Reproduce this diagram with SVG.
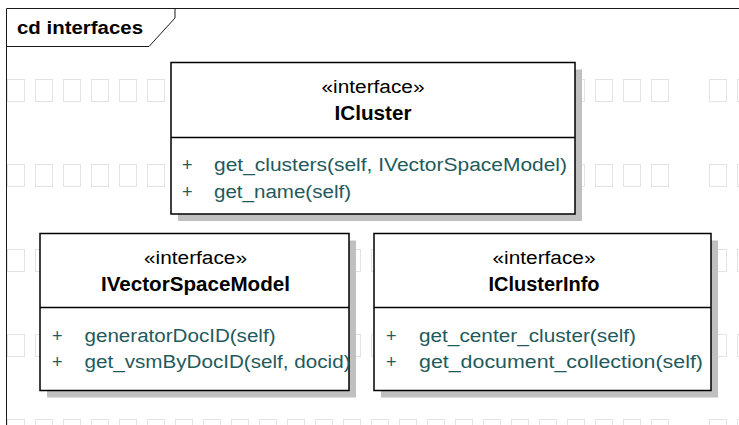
<svg xmlns="http://www.w3.org/2000/svg" width="739" height="425" viewBox="0 0 739 425">
  <style>
    text { font-family: "Liberation Sans", Arial, sans-serif; font-size: 18px; }
    .title { font-weight: bold; fill: #000; }
    .stereo { fill: #000; text-anchor: middle; }
    .name { font-weight: bold; font-size: 19.5px; fill: #000; text-anchor: middle; }
    .op { fill: #1f5a5c; }
    .box { fill: #fff; stroke: #000; stroke-width: 1.5; }
    .shadow { fill: #c0c0c0; }
    .divider { stroke: #000; stroke-width: 1.5; fill: none; }
    .frame { stroke: #1a1a1a; stroke-width: 1; fill: none; }
    .cell { fill: none; stroke: #e3e3e3; stroke-width: 1; }
  </style>
  <defs>
    <!-- page grid cells -->
    <pattern id="cells" patternUnits="userSpaceOnUse" x="7" y="79" width="28" height="85">
      <rect class="cell" x="0.5" y="0.5" width="17" height="22"/>
    </pattern>
    <pattern id="cells2" patternUnits="userSpaceOnUse" x="709" y="79" width="28" height="85">
      <rect class="cell" x="0.5" y="0.5" width="17" height="22"/>
    </pattern>
  </defs>

  <rect width="739" height="425" fill="#fff"/>
  <rect x="7" y="79" width="663" height="346" fill="url(#cells)"/>
  <rect x="709" y="79" width="30" height="346" fill="url(#cells2)"/>

  <!-- diagram frame with name tab -->
  <g id="frame">
    <path class="frame" d="M6.5,425 V8.5 H739"/>
    <path class="frame" d="M6.5,46.5 H149 L175,18 V8.5"/>
    <text class="title" x="17" y="33.5" textLength="126" lengthAdjust="spacingAndGlyphs">cd interfaces</text>
  </g>

  <g id="connectors"/>

  <g id="ICluster">
    <rect class="shadow" x="178" y="69.5" width="404" height="151.5"/>
    <rect class="box" x="171" y="62.5" width="404" height="151.5"/>
    <line class="divider" x1="171" y1="137.5" x2="575" y2="137.5"/>
    <text class="stereo" x="373" y="93" textLength="103" lengthAdjust="spacingAndGlyphs">«interface»</text>
    <text class="name" x="373" y="120" textLength="77" lengthAdjust="spacingAndGlyphs">ICluster</text>
    <text class="op" x="182" y="171">+</text>
    <text class="op" x="214" y="171" textLength="353" lengthAdjust="spacingAndGlyphs">get_clusters(self, IVectorSpaceModel)</text>
    <text class="op" x="182" y="198">+</text>
    <text class="op" x="214" y="198" textLength="137" lengthAdjust="spacingAndGlyphs">get_name(self)</text>
  </g>

  <g id="IVectorSpaceModel">
    <rect class="shadow" x="47" y="240.5" width="309" height="157"/>
    <rect class="box" x="40" y="233.5" width="309" height="157"/>
    <line class="divider" x1="40" y1="307.5" x2="349" y2="307.5"/>
    <text class="stereo" x="195.5" y="264" textLength="103" lengthAdjust="spacingAndGlyphs">«interface»</text>
    <text class="name" x="195.5" y="290.5" textLength="189" lengthAdjust="spacingAndGlyphs">IVectorSpaceModel</text>
    <text class="op" x="52" y="341.5">+</text>
    <text class="op" x="84.5" y="341.5" textLength="191" lengthAdjust="spacingAndGlyphs">generatorDocID(self)</text>
    <text class="op" x="52" y="368">+</text>
    <text class="op" x="84.5" y="368" textLength="266" lengthAdjust="spacingAndGlyphs">get_vsmByDocID(self, docid)</text>
  </g>

  <g id="IClusterInfo">
    <rect class="shadow" x="381" y="240.5" width="337" height="157"/>
    <rect class="box" x="374" y="233.5" width="337" height="157"/>
    <line class="divider" x1="374" y1="307.5" x2="711" y2="307.5"/>
    <text class="stereo" x="544" y="264" textLength="103" lengthAdjust="spacingAndGlyphs">«interface»</text>
    <text class="name" x="544" y="290.5" textLength="111" lengthAdjust="spacingAndGlyphs">IClusterInfo</text>
    <text class="op" x="386" y="341.5">+</text>
    <text class="op" x="419" y="341.5" textLength="217" lengthAdjust="spacingAndGlyphs">get_center_cluster(self)</text>
    <text class="op" x="386" y="368">+</text>
    <text class="op" x="419" y="368" textLength="284" lengthAdjust="spacingAndGlyphs">get_document_collection(self)</text>
  </g>
</svg>
